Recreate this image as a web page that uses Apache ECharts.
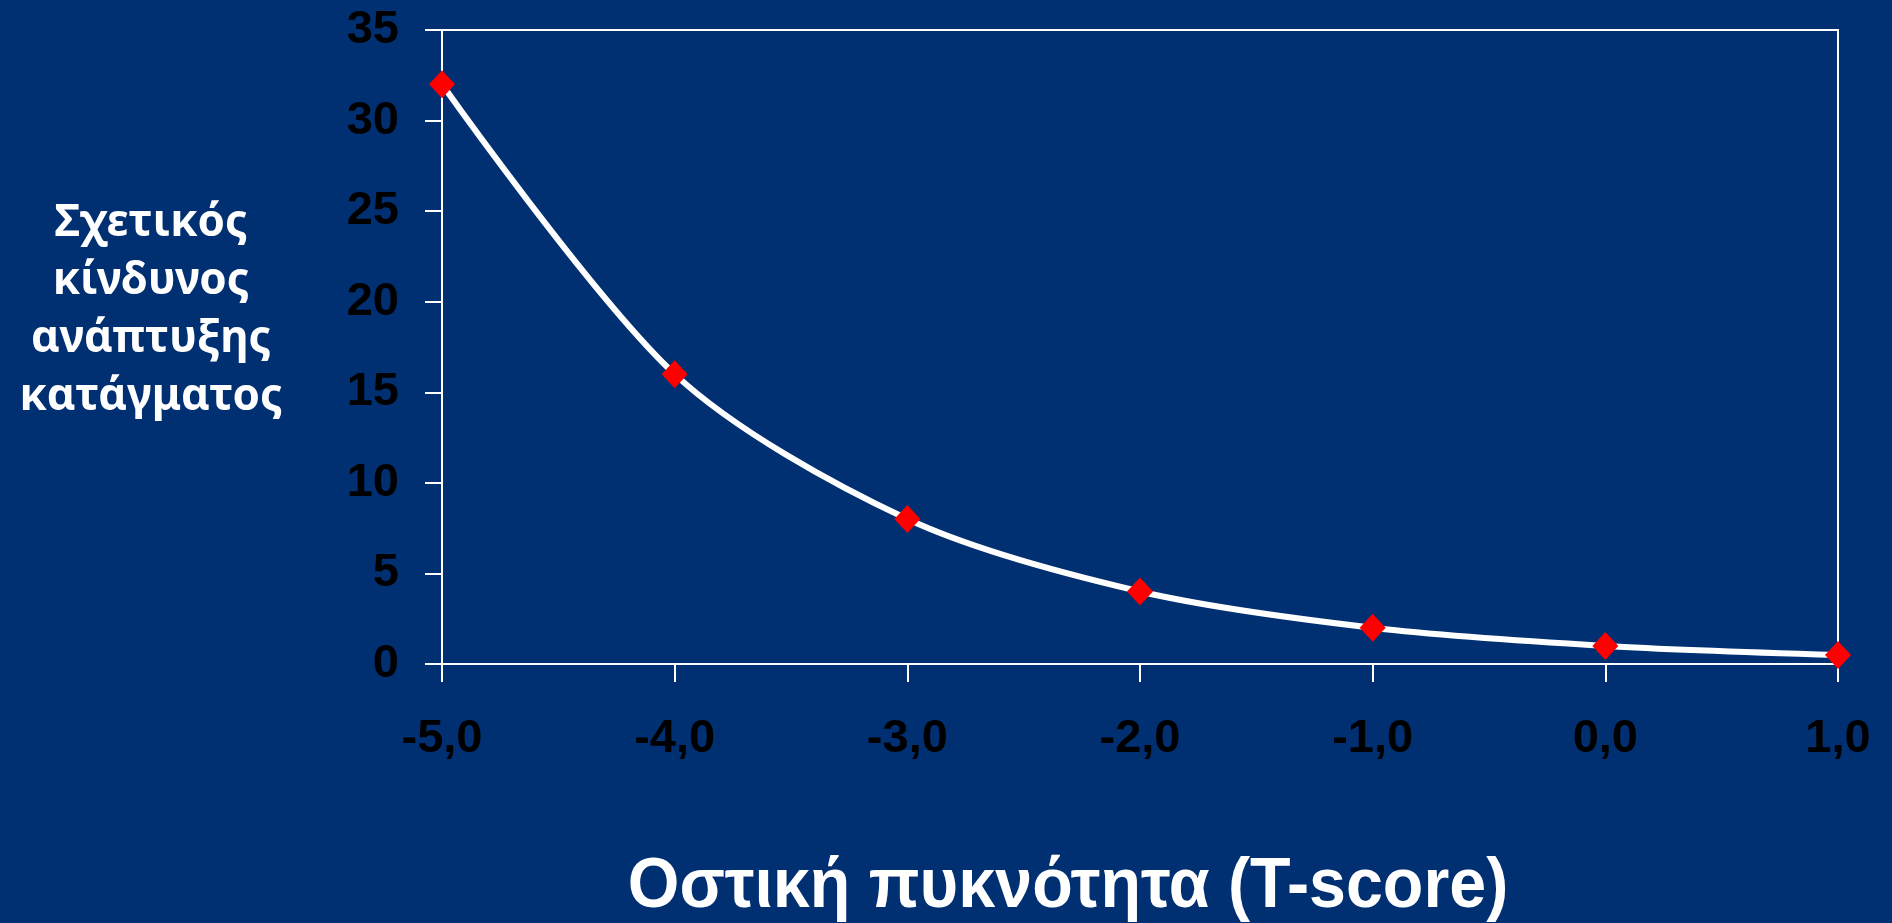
<!DOCTYPE html>
<html>
<head>
<meta charset="utf-8">
<script src="https://cdn.jsdelivr.net/npm/echarts@6/dist/echarts.min.js"></script>
<style>
html,body{margin:0;padding:0;background:#002F72;}
#chart{width:1892px;height:923px;}
</style>
</head>
<body>
<div id="chart"></div>
<script>
const tScores = [-5, -4, -3, -2, -1, 0, 1];
const relativeRisk = [32, 16, 8, 4, 2, 1, 0.5];
const yTitleLines = ['Σχετικός', 'κίνδυνος', 'ανάπτυξης', 'κατάγματος'];
const xTitle = 'Οστική πυκνότητα (T-score)';

const chart = echarts.init(document.getElementById('chart'));
chart.setOption({
  backgroundColor: '#002F72',
  animation: false,
  grid: {left: 442, right: 54, top: 30, bottom: 259, show: true, borderColor: '#ffffff', borderWidth: 2},
  xAxis: {
    type: 'value', min: -5, max: 1, interval: 1,
    axisLine: {show: true, onZero: false, lineStyle: {color: '#ffffff', width: 2}},
    axisTick: {show: true, length: 18, lineStyle: {color: '#ffffff', width: 2}},
    splitLine: {show: false},
    axisLabel: {
      color: '#000000', fontFamily: 'Liberation Sans, Arial', fontWeight: 'bold', fontSize: 47, margin: 52,
      formatter: v => v.toFixed(1).replace('.', ',')
    }
  },
  yAxis: {
    type: 'value', min: 0, max: 35, interval: 5,
    axisLine: {show: true, onZero: false, lineStyle: {color: '#ffffff', width: 2}},
    axisTick: {show: true, length: 17, lineStyle: {color: '#ffffff', width: 2}},
    splitLine: {show: false},
    axisLabel: {color: '#000000', fontFamily: 'Liberation Sans, Arial', fontWeight: 'bold', fontSize: 47, margin: 43}
  },
  series: [{
    type: 'line',
    data: tScores.map((x, i) => [x, relativeRisk[i]]),
    smooth: 0.3,
    lineStyle: {color: '#ffffff', width: 6},
    symbol: 'diamond',
    symbolSize: [26, 28],
    itemStyle: {color: '#ff0000'},
    z: 3
  }],
  graphic: [
    {
      type: 'text', x: 151, y: 310,
      style: {
        text: yTitleLines.join('\n'), fill: '#ffffff', font: 'bold 44px "Noto Sans"',
        lineHeight: 58, align: 'center', verticalAlign: 'middle'
      }
    },
    {
      type: 'text', x: 1068, y: 888, scaleX: 0.948,
      style: {
        text: xTitle, fill: '#ffffff', font: 'bold 70px "Liberation Sans", Arial',
        align: 'center', verticalAlign: 'middle'
      }
    }
  ]
});
</script>
</body>
</html>
